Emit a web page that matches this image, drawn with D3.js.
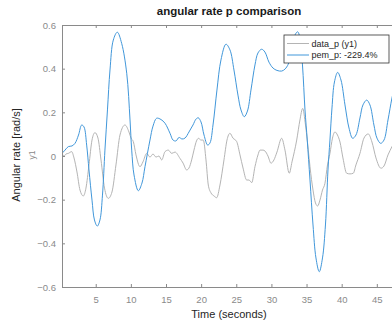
<!DOCTYPE html>
<html>
<head>
<meta charset="utf-8">
<script src="https://cdn.jsdelivr.net/npm/d3@7"></script>
<style>
  body { margin: 0; background: #fff; }
  text { font-family: "Liberation Sans", Arial, sans-serif; }
</style>
</head>
<body>
<div class="plot"></div>
<script>
"use strict";

// time (s) / value pairs
var pemTime = [0.20, 0.63, 1.10, 1.62, 2.05, 2.55, 3.00, 3.33, 3.71, 4.04, 4.47, 4.82, 5.22, 5.60, 5.96, 6.31, 6.67, 7.03, 7.50, 8.07,
    8.69, 9.41, 9.88, 10.12, 10.45, 11.06, 11.58, 12.01, 12.72, 13.15, 13.67, 14.29, 14.86, 15.57, 16.00, 16.42, 16.85, 17.27, 17.70, 18.27,
    18.84, 19.27, 19.59, 19.98, 20.41, 20.93, 21.26, 21.69, 22.25, 22.82, 23.53, 24.10, 24.67, 25.24, 25.67, 26.14, 26.59, 27.09, 27.66, 28.09,
    28.61, 29.08, 29.65, 30.22, 30.79, 31.46, 31.93, 32.40, 32.93, 33.35, 33.74, 34.06, 34.42, 34.78, 35.10, 35.49, 35.92, 36.34, 36.81, 37.27,
    37.69, 38.05, 38.33, 38.62, 38.97, 39.43, 39.90, 40.47, 41.04, 41.56, 42.03, 42.60, 43.03, 43.56, 44.02, 44.59, 45.02, 45.55, 46.02, 46.59,
    47.16, 47.70];
var pemValue = [0.012, 0.027, 0.043, 0.046, 0.058, 0.096, 0.142, 0.133, 0.050, -0.064, -0.202, -0.293, -0.321, -0.293, -0.179, 0.027, 0.211, 0.394, 0.531, 0.567,
    0.516, 0.379, 0.165, 0.027, -0.087, -0.159, -0.124, -0.049, 0.073, 0.137, 0.173, 0.167, 0.150, 0.104, 0.073, 0.069, 0.085, 0.078, 0.082, 0.110,
    0.142, 0.169, 0.175, 0.156, 0.096, 0.050, 0.060, 0.142, 0.302, 0.440, 0.512, 0.486, 0.394, 0.279, 0.211, 0.180, 0.206, 0.302, 0.417, 0.472,
    0.489, 0.476, 0.430, 0.403, 0.392, 0.389, 0.398, 0.421, 0.486, 0.554, 0.569, 0.540, 0.417, 0.211, 0.073, -0.110, -0.316, -0.467, -0.530, -0.467,
    -0.316, -0.064, 0.073, 0.220, 0.339, 0.383, 0.348, 0.234, 0.128, 0.081, 0.096, 0.174, 0.234, 0.256, 0.234, 0.142, 0.082, 0.058, 0.073, 0.165,
    0.266, 0.340];

var dataTime = [0.20, 0.48, 0.77, 1.10, 1.58, 1.91, 2.33, 2.76, 3.23, 3.61, 4.04, 4.47, 4.89, 5.32, 5.75, 6.25, 6.79, 7.31, 7.88, 8.45,
    9.16, 9.73, 10.02, 10.35, 10.73, 11.30, 11.72, 12.25, 12.72, 13.15, 13.58, 14.00, 14.39, 14.86, 15.33, 15.81, 16.28, 16.99, 17.42, 17.94,
    18.27, 18.65, 18.98, 19.34, 19.62, 19.98, 20.31, 20.69, 21.02, 21.40, 21.83, 22.21, 22.68, 23.25, 23.68, 24.10, 24.53, 25.06, 25.53, 25.96,
    26.48, 26.81, 27.20, 27.66, 28.09, 28.37, 28.80, 29.08, 29.51, 29.94, 30.36, 30.79, 31.46, 31.93, 32.54, 32.93, 33.60, 34.06, 34.45, 34.85,
    35.25, 35.49, 35.92, 36.27, 36.58, 36.91, 37.27, 37.62, 37.98, 38.33, 38.69, 39.04, 39.40, 39.76, 40.18, 40.71, 41.18, 41.65, 42.03, 42.60,
    43.17, 43.78, 44.31, 44.88, 45.59, 46.02, 46.59, 47.16, 47.70];
var dataValue = [0.012, 0.000, 0.009, 0.012, 0.020, -0.009, -0.073, -0.156, -0.183, -0.147, -0.041, 0.073, 0.107, 0.082, -0.018, -0.147, -0.194, -0.165, -0.041, 0.096,
    0.142, 0.110, 0.082, 0.066, 0.005, -0.049, -0.027, 0.012, -0.005, 0.009, -0.005, 0.000, -0.018, 0.020, 0.027, 0.012, 0.018, -0.011, -0.032, -0.064,
    -0.055, -0.018, 0.027, 0.069, 0.081, 0.073, 0.073, -0.018, -0.133, -0.169, -0.183, -0.191, -0.133, -0.018, 0.073, 0.104, 0.082, 0.066, 0.005, -0.055,
    -0.110, -0.110, -0.122, -0.049, 0.005, 0.027, 0.027, 0.023, 0.000, -0.033, -0.018, 0.018, 0.081, 0.027, -0.079, -0.027, 0.073, 0.165, 0.218, 0.142,
    0.027, -0.049, -0.156, -0.215, -0.229, -0.202, -0.156, -0.125, -0.041, 0.012, 0.082, 0.110, 0.096, 0.064, -0.009, -0.079, -0.082, -0.079, -0.041, 0.012,
    0.082, 0.101, 0.064, -0.009, -0.056, -0.046, 0.005, 0.043, 0.080];

var xTicks = [5, 10, 15, 20, 25, 30, 35, 40, 45];
var yTicks = [-0.6, -0.4, -0.2, 0, 0.2, 0.4, 0.6];
var legendLabels = ["data_p (y1)", "pem_p: -229.4%"];
var seriesColors = ["#b4b4b4", "#4197da"];

var width = 392, height = 326;
var margin = { top: 25, left: 62, bottom: 39, right: -4 };
var axisColor = "#8a8a8a";

var svg = d3.select(".plot")
    .append("svg")
    .attr("width", width)
    .attr("height", height)
    .style("display", "block");

var x = d3.scaleLinear()
    .domain([0.2, 47.73])
    .range([margin.left, width - margin.right]);

var y = d3.scaleLinear()
    .domain([-0.6, 0.6])
    .range([height - margin.bottom, margin.top]);

svg.append("clipPath").attr("id", "clip")
    .append("rect")
    .attr("x", margin.left)
    .attr("y", margin.top)
    .attr("width", x.range()[1] - margin.left)
    .attr("height", y.range()[0] - margin.top);

// series
var pemData = pemTime.map((t, i) => [t, pemValue[i]]);
var dataData = dataTime.map((t, i) => [t, dataValue[i]]);

svg.append("path")
    .datum(dataData)
    .attr("clip-path", "url(#clip)")
    .attr("fill", "none")
    .attr("stroke", seriesColors[0])
    .attr("stroke-width", 1)
    .attr("d", d3.line().x(d => x(d[0])).y(d => y(d[1])).curve(d3.curveMonotoneX));

svg.append("path")
    .datum(pemData)
    .attr("clip-path", "url(#clip)")
    .attr("fill", "none")
    .attr("stroke", seriesColors[1])
    .attr("stroke-width", 1)
    .attr("d", d3.line().x(d => x(d[0])).y(d => y(d[1])).curve(d3.curveCatmullRom.alpha(0.5)));

// axes (ticks pointing inward, box on)
var xAxis = svg.append("g")
    .attr("transform", `translate(0,${y.range()[0]})`)
    .call(d3.axisBottom(x).tickValues(xTicks).tickSizeInner(-3).tickSizeOuter(0).tickPadding(9));

var xTop = svg.append("g")
    .attr("transform", `translate(0,${margin.top})`)
    .call(d3.axisTop(x).tickValues(xTicks).tickSizeInner(-3).tickSizeOuter(0).tickFormat(""));

var yAxis = svg.append("g")
    .attr("transform", `translate(${margin.left},0)`)
    .call(d3.axisLeft(y).tickValues(yTicks).tickSizeInner(-3).tickSizeOuter(0).tickPadding(6)
        .tickFormat(d => d === 0 ? "0" : d3.format(".1f")(d)));

[xAxis, xTop, yAxis].forEach(g => {
    g.selectAll(".domain").attr("stroke", axisColor).attr("stroke-width", 1);
    g.selectAll(".tick line").attr("stroke", axisColor);
    g.selectAll(".tick text")
        .attr("fill", axisColor)
        .style("font-family", "'Liberation Sans', Arial, sans-serif")
        .style("font-size", "9.5px");
});

// titles and labels
svg.append("text")
    .attr("x", (margin.left + x.range()[1]) / 2)
    .attr("y", 15)
    .attr("text-anchor", "middle")
    .style("font-size", "11.5px")
    .style("font-weight", "bold")
    .attr("fill", "#1a1a1a")
    .text("angular rate p comparison");

svg.append("text")
    .attr("x", (margin.left + x.range()[1]) / 2)
    .attr("y", 318)
    .attr("text-anchor", "middle")
    .style("font-size", "11px")
    .attr("fill", "#262626")
    .text("Time (seconds)");

svg.append("text")
    .attr("transform", "translate(19.5,155) rotate(-90)")
    .attr("text-anchor", "middle")
    .style("font-size", "11px")
    .attr("fill", "#262626")
    .text("Angular rate [rad/s]");

svg.append("text")
    .attr("transform", "translate(34.5,155) rotate(-90)")
    .attr("text-anchor", "middle")
    .style("font-size", "8.5px")
    .attr("fill", axisColor)
    .text("y1");

// legend
var legend = svg.append("g").attr("transform", "translate(284,35)");
legend.append("rect")
    .attr("width", 105)
    .attr("height", 28)
    .attr("fill", "#fff")
    .attr("stroke", "#333")
    .attr("stroke-width", 0.8);

legendLabels.forEach((label, i) => {
    var ly = 8.5 + i * 11.5;
    legend.append("line")
        .attr("x1", 3).attr("x2", 25)
        .attr("y1", ly).attr("y2", ly)
        .attr("stroke", seriesColors[i])
        .attr("stroke-width", 1);
    legend.append("text")
        .attr("x", 27.5)
        .attr("y", ly + 3.3)
        .style("font-size", "9px")
        .attr("fill", "#262626")
        .text(label);
});
</script>
</body>
</html>
